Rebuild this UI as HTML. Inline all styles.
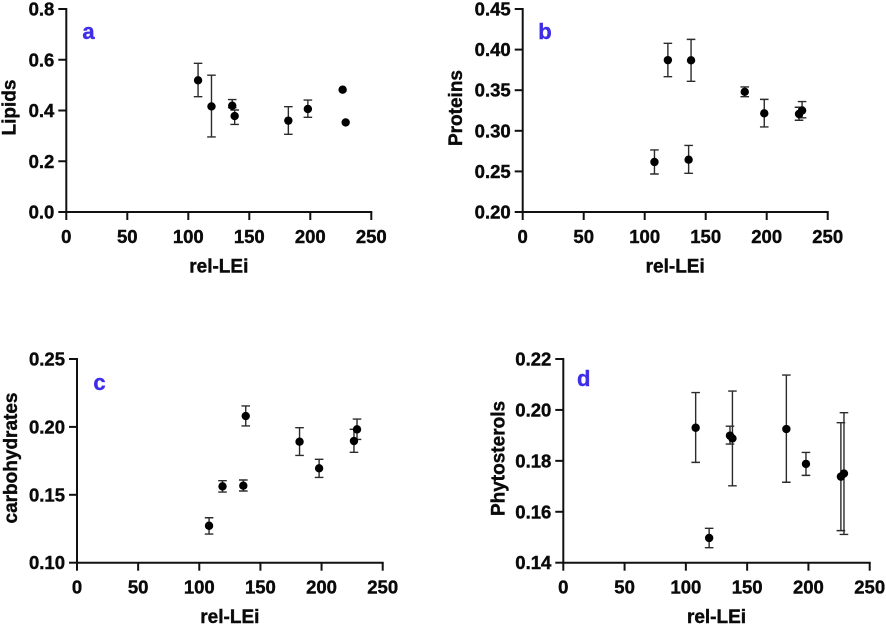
<!DOCTYPE html>
<html>
<head>
<meta charset="utf-8">
<title>Scatter panels against rel-LEi</title>
<style>
html,body{margin:0;padding:0;background:#fff;}
svg{display:block;}
text{font-family:"Liberation Sans",sans-serif;font-weight:700;fill:#0a0a0a;stroke:#0a0a0a;stroke-width:0.4px;}
</style>
</head>
<body>
<svg id="figure" xmlns="http://www.w3.org/2000/svg" width="886" height="625" viewBox="0 0 886 625" style="filter:blur(0.3px)"></svg>
<script>
const relLEi = [108, 119, 136, 138, 182, 198, 226.5, 229];
const xTicks = [0, 50, 100, 150, 200, 250];

const lipidsValues = [0.519, 0.416, 0.419, 0.378, 0.360, 0.406, 0.482, 0.353];
const lipidsHigh = [0.586, 0.539, 0.443, 0.402, 0.415, 0.441, null, null];
const lipidsLow = [0.4545, 0.296, 0.411, 0.345, 0.306, 0.373, null, null];
const lipidsTicks = ["0.0", "0.2", "0.4", "0.6", "0.8"];

const proteinsValues = [0.2616, 0.387, 0.2644, 0.3868, 0.348, 0.3215, 0.3207, 0.325];
const proteinsHigh = [0.2764, 0.4077, 0.282, 0.4126, 0.354, 0.3387, 0.329, 0.336];
const proteinsLow = [0.2468, 0.3667, 0.2476, 0.361, 0.342, 0.3047, 0.313, 0.316];
const proteinsTicks = ["0.20", "0.25", "0.30", "0.35", "0.40", "0.45"];

const carbsValues = [0.1272, 0.1562, 0.1567, 0.208, 0.1891, 0.1695, 0.1896, 0.1982];
const carbsHigh = [0.1331, 0.1604, 0.1609, 0.2154, 0.1994, 0.1761, 0.1982, 0.2058];
const carbsLow = [0.1211, 0.152, 0.1528, 0.2007, 0.179, 0.1628, 0.1813, 0.1908];
const carbsTicks = ["0.10", "0.15", "0.20", "0.25"];

const phytoValues = [0.193, 0.1497, 0.1899, 0.1888, 0.1925, 0.1788, 0.1738, 0.175];
const phytoHigh = [0.2068, 0.1535, 0.1936, 0.2074, 0.2137, 0.1833, 0.195, 0.1989];
const phytoLow = [0.1794, 0.1459, 0.1866, 0.1702, 0.1716, 0.1743, 0.1526, 0.1511];
const phytoTicks = ["0.14", "0.16", "0.18", "0.20", "0.22"];

const NS = "http://www.w3.org/2000/svg";
const root = document.getElementById("figure");

function make(parent, tag, attrs, content) {
  const el = document.createElementNS(NS, tag);
  for (const k in attrs) el.setAttribute(k, attrs[k]);
  if (content !== undefined) el.textContent = content;
  parent.appendChild(el);
  return el;
}

function drawPanel(p) {
  const g = make(root, "g", {});
  
  

  const xMax = xTicks[xTicks.length - 1];
  const yMin = parseFloat(p.yTicks[0]);
  const yMax = parseFloat(p.yTicks[p.yTicks.length - 1]);
  const sx = v => p.left + (v / xMax) * (p.right - p.left);
  const sy = v => p.bottom - ((v - yMin) / (yMax - yMin)) * (p.bottom - p.top);
  const axisStyle = {stroke: "#111", "stroke-width": 2, fill: "none"};

  const xAxis = make(g, "line", Object.assign({x1: p.left - 1, x2: p.right + 1, y1: p.bottom, y2: p.bottom}, axisStyle));
  
  
  const yAxis = make(g, "line", Object.assign({x1: p.left, x2: p.left, y1: p.top - 1, y2: p.bottom + 1}, axisStyle));
  
  

  xTicks.forEach(t => {
    const tick = make(g, "line", Object.assign({x1: sx(t), x2: sx(t), y1: p.bottom, y2: p.bottom + 8}, axisStyle));
    
    
    const label = make(g, "text", {x: sx(t), y: p.bottom + 31, "text-anchor": "middle", "font-size": 18.5}, String(t));
    
    
  });

  p.yTicks.forEach(t => {
    const v = parseFloat(t);
    const tick = make(g, "line", Object.assign({x1: p.left - 8, x2: p.left, y1: sy(v), y2: sy(v)}, axisStyle));
    
    
    const label = make(g, "text", {x: p.left - 12, y: sy(v) + 6.5, "text-anchor": "end", "font-size": 18.5}, t);
    
    
  });

  const xTitle = make(g, "text", {x: (p.left + p.right) / 2, y: p.bottom + 60.5, "text-anchor": "middle", "font-size": 19}, "rel-LEi");
  
  

  const yTitle = make(g, "text", {
    x: 0, y: 0, "text-anchor": "middle", "font-size": 19,
    transform: "translate(" + p.yTitleX + " " + p.yTitleY + ") rotate(-90)"
  }, p.yTitle);
  
  

  const tag = make(g, "text", {x: p.letterX, y: p.letterY, "text-anchor": "middle", "font-size": 22, style: "fill:#3f2ee8;stroke:#3f2ee8"}, p.letter);
  
  

  const barStyle = {stroke: "#2b2b2b", "stroke-width": 1.4, fill: "none"};
  relLEi.forEach((x, i) => {
    if (p.high[i] !== null) {
      const cx = sx(x), hi = sy(p.high[i]), lo = sy(p.low[i]);
      const bar = make(g, "path", Object.assign({
        d: "M" + (cx - 4.3) + " " + hi + "H" + (cx + 4.3) + "M" + cx + " " + hi + "V" + lo + "M" + (cx - 4.3) + " " + lo + "H" + (cx + 4.3)
      }, barStyle));
      
      
    }
  });
  relLEi.forEach((x, i) => {
    const dot = make(g, "circle", {cx: sx(x), cy: sy(p.values[i]), r: 4.2, fill: "#000"});
    
    
  });
}

drawPanel({letter: "a", yTitle: "Lipids", yTicks: lipidsTicks, values: lipidsValues, high: lipidsHigh, low: lipidsLow,
  left: 66.3, right: 371.3, top: 9, bottom: 212, yTitleX: 15.7, yTitleY: 107.5, letterX: 88.5, letterY: 39});
drawPanel({letter: "b", yTitle: "Proteins", yTicks: proteinsTicks, values: proteinsValues, high: proteinsHigh, low: proteinsLow,
  left: 522.7, right: 827.7, top: 9, bottom: 212, yTitleX: 462, yTitleY: 108, letterX: 545, letterY: 39});
drawPanel({letter: "c", yTitle: "carbohydrates", yTicks: carbsTicks, values: carbsValues, high: carbsHigh, low: carbsLow,
  left: 77, right: 382.7, top: 359, bottom: 562.7, yTitleX: 17, yTitleY: 458, letterX: 99.5, letterY: 390});
drawPanel({letter: "d", yTitle: "Phytosterols", yTicks: phytoTicks, values: phytoValues, high: phytoHigh, low: phytoLow,
  left: 563.3, right: 869.7, top: 359, bottom: 562.7, yTitleX: 504.7, yTitleY: 458.5, letterX: 583.7, letterY: 386});
</script>
</body>
</html>
